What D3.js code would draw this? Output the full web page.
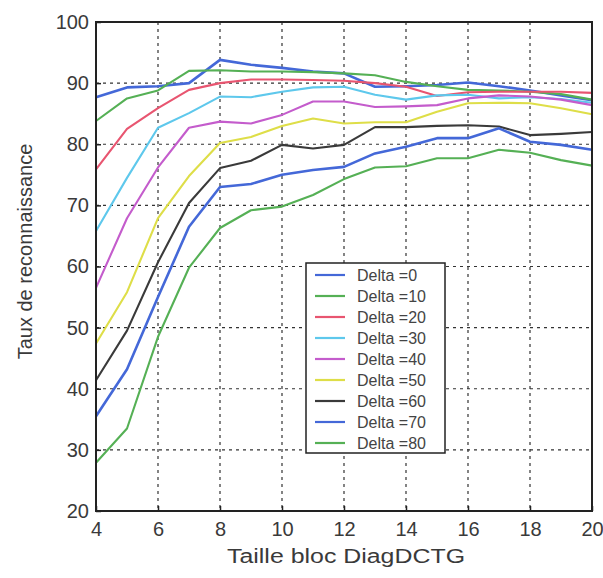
<!DOCTYPE html>
<html><head><meta charset="utf-8">
<script src="https://cdn.jsdelivr.net/npm/d3@7"></script>
<style>body{margin:0;background:#fff}svg{display:block}text{font-family:"Liberation Sans",Arial,sans-serif}</style>
</head><body><svg id="c" width="603" height="578"></svg>
<script>
const xValues = [4,5,6,7,8,9,10,11,12,13,14,15,16,17,18,19,20];
const seriesNames = ["Delta =0","Delta =10","Delta =20","Delta =30","Delta =40","Delta =50","Delta =60","Delta =70","Delta =80"];
const delta0  = [87.7,89.3,89.5,90.0,93.8,93.0,92.5,91.9,91.6,89.4,89.5,89.7,90.1,89.5,88.8,88.0,87.2];
const delta10 = [83.8,87.5,88.8,92.0,92.1,91.9,91.9,91.8,91.6,91.3,90.2,89.5,88.9,88.8,88.6,88.2,87.3];
const delta20 = [75.9,82.5,85.9,88.9,90.0,90.6,90.6,90.5,90.4,90.0,89.4,87.9,88.5,88.6,88.6,88.6,88.4];
const delta30 = [65.8,74.5,82.7,85.1,87.8,87.7,88.6,89.3,89.4,88.1,87.3,88.0,88.1,87.5,87.7,87.4,86.8];
const delta40 = [56.5,67.9,76.2,82.7,83.7,83.4,84.8,87.0,87.0,86.1,86.2,86.4,87.5,88.0,87.8,87.3,86.4];
const delta50 = [47.4,55.8,67.9,74.8,80.2,81.2,83.0,84.2,83.4,83.6,83.6,85.3,86.7,86.8,86.7,85.9,84.9];
const delta60 = [41.4,49.5,60.7,70.4,76.1,77.3,79.9,79.3,79.9,82.8,82.8,83.0,83.1,82.9,81.5,81.7,82.0];
const delta70 = [35.5,43.2,55.0,66.5,73.0,73.5,75.0,75.8,76.3,78.5,79.6,81.0,81.0,82.6,80.4,79.9,79.1];
const delta80 = [27.9,33.5,48.5,59.8,66.3,69.2,69.8,71.7,74.3,76.2,76.4,77.7,77.7,79.1,78.6,77.4,76.5];
const allSeries = [delta0,delta10,delta20,delta30,delta40,delta50,delta60,delta70,delta80];
const colors = ["#4468d8","#55b055","#e85570","#5ec8ec","#c45ccc","#dede48","#3a3a3a","#4468d8","#55b055"];
const xTicks = [4,6,8,10,12,14,16,18,20];
const yTicks = [20,30,40,50,60,70,80,90,100];

const svg = d3.select("#c");
const L=96,R=592,T=22,B=511;
const x = d3.scaleLinear().domain([4,20]).range([L,R]);
const y = d3.scaleLinear().domain([20,100]).range([B,T]);

// grid
const g = svg.append("g");
g.selectAll(".gx").data(xTicks.slice(1,-1)).join("line")
 .attr("x1",d=>x(d)).attr("x2",d=>x(d)).attr("y1",T).attr("y2",B)
 .attr("stroke","#333").attr("stroke-width",1.2).attr("stroke-dasharray","3,4");
g.selectAll(".gy").data(yTicks.slice(1,-1)).join("line")
 .attr("y1",d=>y(d)).attr("y2",d=>y(d)).attr("x1",L).attr("x2",R)
 .attr("stroke","#333").attr("stroke-width",1.2).attr("stroke-dasharray","3,4");

// lines
const line = d3.line().x((d,i)=>x(xValues[i])).y(d=>y(d));
allSeries.forEach((s,k)=>{
  svg.append("path").datum(s).attr("d",line).attr("fill","none")
   .attr("stroke",colors[k]).attr("stroke-width",(k===0||k===7)?2.6:2.1)
   .attr("stroke-linejoin","round");
});

// frame
svg.append("rect").attr("x",L).attr("y",T).attr("width",R-L).attr("height",B-T)
 .attr("fill","none").attr("stroke","#222").attr("stroke-width",2);

// axes
const ax = svg.append("g").attr("transform",`translate(0,${B})`)
 .call(d3.axisBottom(x).tickValues(xTicks).tickSize(-5).tickPadding(11).tickFormat(d3.format("d")));
const ay = svg.append("g").attr("transform",`translate(${L},0)`)
 .call(d3.axisLeft(y).tickValues(yTicks).tickSize(-5).tickPadding(7).tickFormat(d3.format("d")));
[ax,ay].forEach(a=>{
  a.select(".domain").remove();
  a.selectAll("line").attr("stroke","#222").attr("stroke-width",1.5);
  a.selectAll("text").attr("font-size",20).attr("fill","#3a3a3a").attr("font-family","'Liberation Sans',Arial,sans-serif");
});
ax.selectAll("text").attr("dy","0.71em");

svg.append("text").attr("x",346).attr("y",563).attr("text-anchor","middle")
 .attr("font-size",20).attr("fill","#3a3a3a").attr("textLength",238).attr("lengthAdjust","spacingAndGlyphs")
 .text("Taille bloc DiagDCTG");
svg.append("text").attr("transform",`translate(32,${(T+B)/2-15}) rotate(-90)`).attr("text-anchor","middle")
 .attr("font-size",20).attr("fill","#3a3a3a").text("Taux de reconnaissance");

// legend
const lg = svg.append("g");
lg.append("rect").attr("x",306).attr("y",263).attr("width",139).attr("height",190)
 .attr("fill","#fff").attr("stroke","#222").attr("stroke-width",1.5);
seriesNames.forEach((n,i)=>{
  const yy = 275 + i*21;
  lg.append("line").attr("x1",315).attr("x2",345).attr("y1",yy).attr("y2",yy)
   .attr("stroke",colors[i]).attr("stroke-width",2.2);
  lg.append("text").attr("x",357).attr("y",yy).attr("dy","0.35em")
   .attr("font-size",16).attr("fill","#444").text(n);
});
</script></body></html>
